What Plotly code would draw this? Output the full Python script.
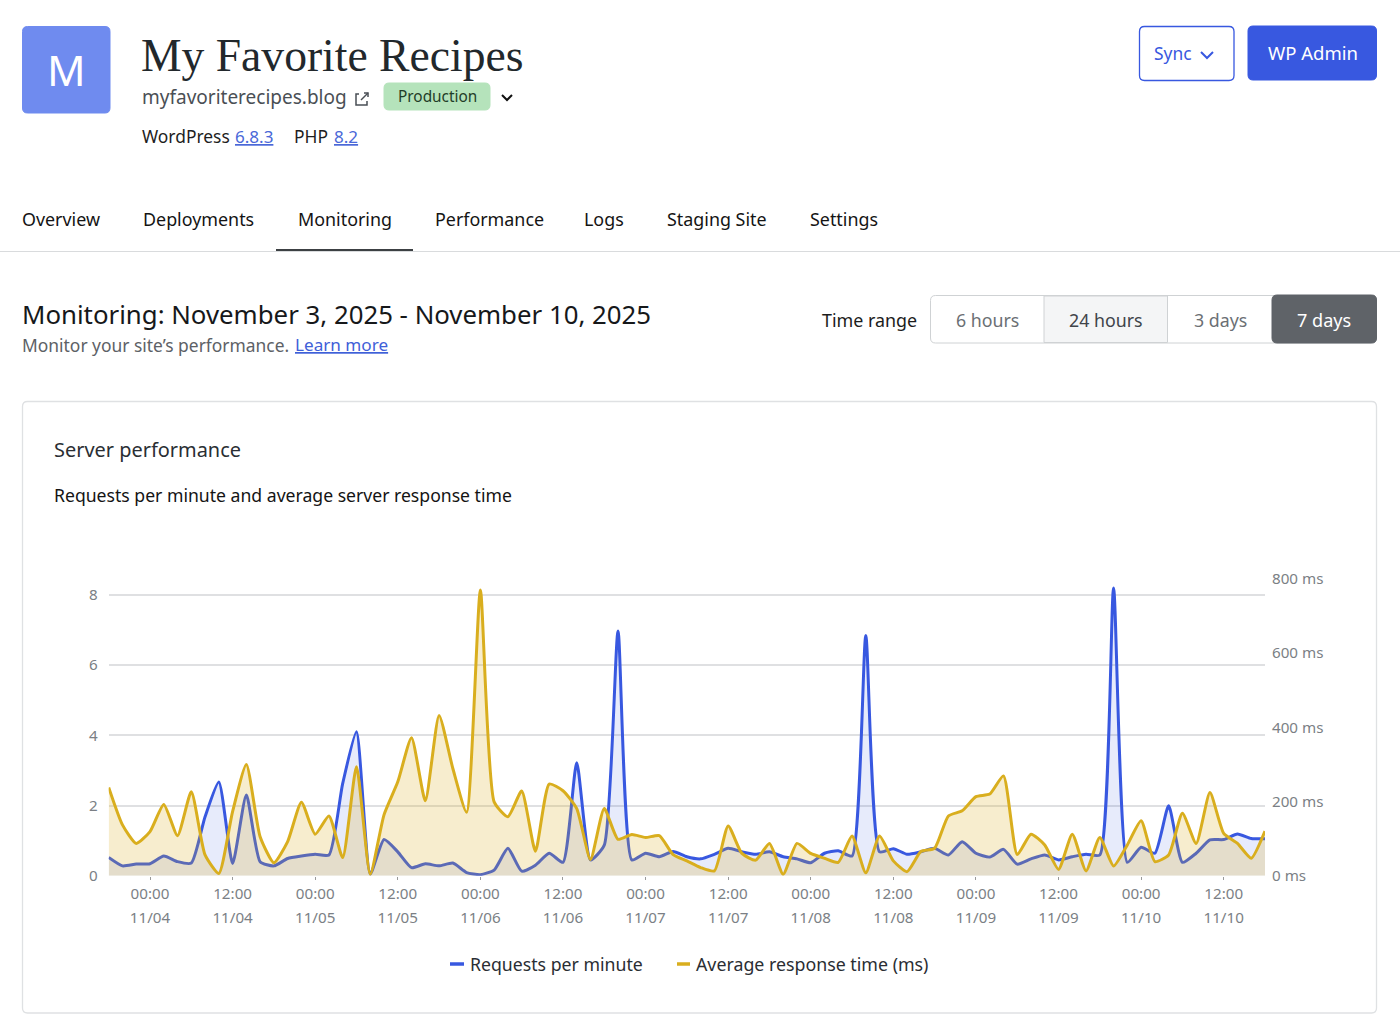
import pandas as pd
import plotly.graph_objects as go

W, H = 1400, 1029

# readings every two hours, 11/03 18:00 -> 11/10 18:00
times = pd.date_range("2025-11-03 18:00", periods=85, freq="2h").strftime("%Y-%m-%d %H:%M").tolist()

requests_per_minute = [
    0.52, 0.28, 0.33, 0.34, 0.56, 0.40, 0.36, 1.68, 2.67, 0.35,
    2.30, 0.40, 0.28, 0.49, 0.56, 0.61, 0.59, 2.63, 4.10, 0.05,
    1.03, 0.68, 0.23, 0.34, 0.28, 0.36, 0.09, 0.03, 0.16, 0.78,
    0.13, 0.30, 0.64, 0.38, 3.22, 0.45, 0.87, 6.97, 0.45, 0.64,
    0.54, 0.69, 0.54, 0.48, 0.61, 0.78, 0.68, 0.61, 0.68, 0.54,
    0.48, 0.37, 0.64, 0.71, 0.56, 6.84, 0.68, 0.77, 0.61, 0.68,
    0.78, 0.59, 0.97, 0.64, 0.53, 0.75, 0.33, 0.48, 0.59, 0.45,
    0.54, 0.61, 0.59, 8.20, 0.38, 0.81, 0.64, 1.99, 0.38, 0.64,
    1.02, 1.03, 1.19, 1.06, 1.05,
]
response_time_ms = [
    238, 137, 87, 119, 192, 108, 226, 56, 6, 173,
    300, 105, 35, 92, 198, 112, 161, 49, 294, 4,
    164, 253, 372, 202, 432, 289, 171, 770, 199, 159,
    228, 66, 247, 229, 181, 44, 181, 98, 111, 103,
    108, 57, 40, 22, 13, 134, 60, 42, 87, 4,
    87, 60, 47, 36, 107, 8, 107, 40, 11, 65,
    74, 161, 175, 213, 220, 269, 57, 112, 83, 17,
    112, 13, 103, 26, 83, 148, 38, 56, 168, 87,
    224, 114, 87, 47, 120,
]

tick_times = [
    "2025-11-04 00:00", "2025-11-04 12:00", "2025-11-05 00:00", "2025-11-05 12:00",
    "2025-11-06 00:00", "2025-11-06 12:00", "2025-11-07 00:00", "2025-11-07 12:00",
    "2025-11-08 00:00", "2025-11-08 12:00", "2025-11-09 00:00", "2025-11-09 12:00",
    "2025-11-10 00:00", "2025-11-10 12:00",
]
tick_hours = ["00:00", "12:00"] * 7
tick_dates = ["11/04", "11/04", "11/05", "11/05", "11/06", "11/06", "11/07",
              "11/07", "11/08", "11/08", "11/09", "11/09", "11/10", "11/10"]
ms_ticks = [0, 200, 400, 600, 800]
ms_labels = ["0 ms", "200 ms", "400 ms", "600 ms", "800 ms"]

BLUE = "#3858e0"
GOLD = "#d9ae1e"
SANS = "Noto Sans"
SERIF = "Liberation Serif"
SANS_SCALE = 0.927  # Noto runs wider than the reference's face
INK = "#1e1e1e"
GRAY = "#7b7f85"

x_range = ["2025-11-03 18:00", "2025-11-10 18:00"]
x_domain = [108.7 / W, 1265 / W]
y_domain = [1 - 875.7 / H, 1 - 570 / H]

fig = go.Figure()

fig.add_trace(go.Scatter(
    x=times, y=requests_per_minute, name="Requests per minute",
    mode="lines", line=dict(color=BLUE, width=3, shape="spline", smoothing=0.55),
    fill="tozeroy", fillcolor="rgba(56,88,224,0.12)",
))
fig.add_trace(go.Scatter(
    x=times, y=response_time_ms, name="Average response time (ms)",
    xaxis="x2", yaxis="y2",
    mode="lines", line=dict(color=GOLD, width=3, shape="spline", smoothing=0.55),
    fill="tozeroy", fillcolor="rgba(217,174,30,0.22)",
))


def px_x(x):
    return x / W


def px_y(y):
    return 1 - y / H


def box(x0, y0, x1, y1, r=4, fill="white", line=None, width=1):
    # rounded rectangle in page pixels
    a, b, c, d = px_x(x0), px_y(y0), px_x(x1), px_y(y1)
    rx, ry = r / W, r / H
    path = (f"M {a+rx} {b} L {c-rx} {b} Q {c} {b} {c} {b-ry} L {c} {d+ry} Q {c} {d} {c-rx} {d} "
            f"L {a+rx} {d} Q {a} {d} {a} {d+ry} L {a} {b-ry} Q {a} {b} {a+rx} {b} Z")
    fig.add_shape(type="path", path=path, xref="paper", yref="paper", fillcolor=fill,
                  line=dict(color=line or fill, width=width), layer="below")


def stroke(points, color, width=2):
    path = "M " + " L ".join(f"{px_x(x)} {px_y(y)}" for x, y in points)
    fig.add_shape(type="path", path=path, xref="paper", yref="paper",
                  line=dict(color=color, width=width), layer="above")


def label(x, y, text, size=19, color=INK, family=SANS, anchor="left"):
    if family == SANS:
        size = size * SANS_SCALE
        y = y - 1
    fig.add_annotation(x=px_x(x), y=px_y(y), xref="paper", yref="paper", text=text,
                       showarrow=False, xanchor=anchor, yanchor="middle", borderpad=0, borderwidth=0,
                       font=dict(size=size, color=color, family=family))


# header
box(22.5, 26.5, 110, 113, r=5, fill="#6f8bef")
label(66, 70, "M", size=46, color="white", anchor="center")
label(141, 56, "My Favorite Recipes", size=45.6, color="#22282c", family=SERIF)
label(142, 98.5, "myfavoriterecipes.blog", size=20.5, color="#4a4f55")
stroke([(359, 94), (356, 94), (356, 105), (367, 105), (367, 101)], "#4a4f55", 1.5)
stroke([(361, 100), (368, 93)], "#4a4f55", 1.5)
stroke([(364, 93), (368, 93), (368, 97)], "#4a4f55", 1.5)
box(384, 83, 490, 110, r=5, fill="#b5e3bb")
label(437, 97.5, "Production", size=16.6, color="#1f3d28", anchor="center")
stroke([(502, 95), (507, 100), (512, 95)], "#111111", 2)
label(142, 137, "WordPress", size=18.8)
label(235, 137, "<u>6.8.3</u>", size=18.4, color="#4a68d8")
label(294, 137, "PHP", size=18.8)
label(333.5, 137, "<u>8.2</u>", size=18.4, color="#4a68d8")

box(1139.5, 26.5, 1234, 80.5, r=5, line=BLUE, width=1.3)
label(1173, 54.5, "Sync", size=18.8, color=BLUE, anchor="center")
stroke([(1201, 52), (1207, 58), (1213, 52)], BLUE, 2)
box(1248, 26, 1376.5, 80, r=5, fill=BLUE)
label(1312.5, 54, "WP Admin", size=20, color="white", anchor="center")

# tabs
for tab, tab_x in zip(["Overview", "Deployments", "Monitoring", "Performance", "Logs", "Staging Site", "Settings"],
                      [22, 143, 298, 435, 584, 667, 810]):
    label(tab_x, 219.5, tab, size=19.3, color="#141414")
stroke([(0, 251.5), (1400, 251.5)], "#d9dbdd", 1)
stroke([(276, 250), (413, 250)], "#3c4043", 2)

# monitoring heading
label(22, 315, "Monitoring: November 3, 2025 - November 10, 2025", size=27.85, color="#16181a")
label(22, 345.5, "Monitor your site\u2019s performance.", size=18.8, color="#5d6166")
label(295, 345.5, "<u>Learn more</u>", size=18.5, color="#3f60d8")

label(822, 320.5, "Time range", size=19.3, color="#1c1c1c")
box(930.5, 295.5, 1376.5, 343, r=5, line="#cfd2d4")
box(1044, 296, 1167.5, 342.5, r=0, fill="#f4f5f6", line="#cfd2d4")
box(1272, 295, 1376.5, 343, r=5, fill="#5f6368")
label(987.5, 320.5, "6 hours", size=19.2, color="#6b6f74", anchor="center")
label(1106, 320.5, "24 hours", size=19.2, color="#40444a", anchor="center")
label(1220, 320.5, "3 days", size=19.2, color="#6b6f74", anchor="center")
label(1324, 320.5, "7 days", size=19.5, color="white", anchor="center")

# card
box(22.5, 401.5, 1376.5, 1013, r=5, line="#dfe1e3", width=1.3)
label(53.5, 450, "Server performance", size=21.5, color="#2a2e33")
label(53.5, 495.5, "Requests per minute and average server response time", size=19, color="#141414")

# legend
stroke([(450, 964), (464, 964)], BLUE, 3.5)
label(470, 964.5, "Requests per minute", size=19.1, color="#2a2e33")
stroke([(677, 964), (690, 964)], GOLD, 3.5)
label(696, 964.5, "Average response time (ms)", size=19.2, color="#2a2e33")

axis_font = dict(size=15.2, color=GRAY, family=SANS)

fig.update_layout(
    width=W, height=H,
    margin=dict(l=0, r=0, t=0, b=0, autoexpand=False),
    paper_bgcolor="white", plot_bgcolor="rgba(0,0,0,0)",
    showlegend=False,
    xaxis=dict(
        domain=x_domain, range=x_range, type="date",
        tickmode="array", tickvals=tick_times, ticktext=tick_hours,
        ticks="outside", ticklen=3, tickcolor="#9a9a9a", tickwidth=1,
        tickfont=axis_font, showgrid=False, zeroline=False, showline=False,
        ticklabelstandoff=1,
    ),
    xaxis2=dict(
        domain=x_domain, range=x_range, type="date", overlaying="x", anchor="y2",
        tickmode="array", tickvals=tick_times, ticktext=tick_dates,
        ticks="", tickfont=axis_font, showgrid=False, zeroline=False, showline=False,
        ticklabelstandoff=31,
    ),
    yaxis=dict(
        domain=y_domain, range=[0, 305.7 / 35.1],
        tickmode="array", tickvals=[0, 2, 4, 6, 8],
        tickfont=axis_font, ticks="", showline=False, zeroline=False,
        showgrid=True, gridcolor="#dfe0e2", gridwidth=1.5,
        ticklabelstandoff=10,
    ),
    yaxis2=dict(
        domain=y_domain, range=[0, 305.7 / 0.371], overlaying="y", side="right", anchor="x",
        tickmode="array", tickvals=ms_ticks, ticktext=ms_labels,
        tickfont=axis_font, ticks="", showline=False, zeroline=False, showgrid=False,
        ticklabelstandoff=6,
    ),
)

fig.write_html("out.html", config={"displayModeBar": False},
               post_script="document.body.style.margin='0';document.body.style.overflow='hidden';")
